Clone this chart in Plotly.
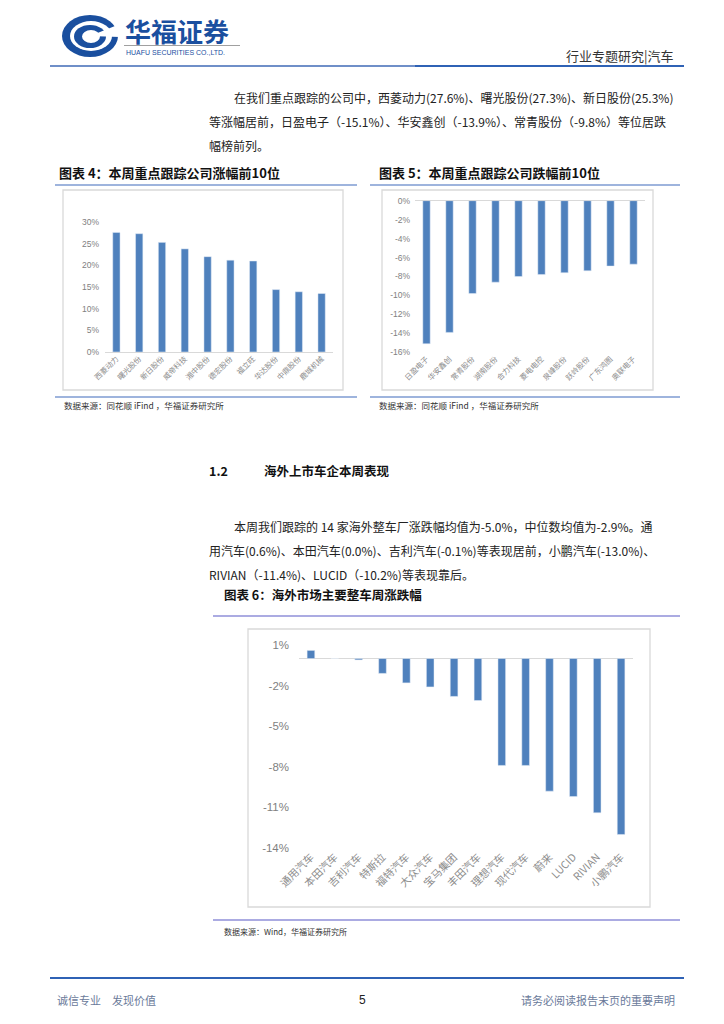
import plotly.graph_objects as go

W, H = 724, 1024
def X(px): return px / W
def Y(py): return 1 - py / H

# ---------------- data ----------------
c4_names = ["西菱动力", "曙光股份", "新日股份", "威帝科技", "湘中股份",
            "德宏股份", "福立旺", "华达股份", "中鼎股份", "鹿城机械"]
c4_vals = [27.6, 27.3, 25.3, 23.8, 22.0, 21.2, 21.0, 14.4, 13.9, 13.5]
c4_ticks = [0, 5, 10, 15, 20, 25, 30]

c5_names = ["日盈电子", "华安鑫创", "常青股份", "湖南股份", "合力科技",
            "菱电电控", "泉峰股份", "跃岭股份", "广东鸿图", "奥联电子"]
c5_vals = [-15.1, -13.9, -9.8, -8.6, -8.0, -7.8, -7.6, -7.4, -6.9, -6.7]
c5_ticks = [0, -2, -4, -6, -8, -10, -12, -14, -16]

c6_names = ["通用汽车", "本田汽车", "吉利汽车", "特斯拉", "福特汽车", "大众汽车", "宝马集团",
            "丰田汽车", "理想汽车", "现代汽车", "蔚来", "LUCID", "RIVIAN", "小鹏汽车"]
c6_vals = [0.6, 0.0, -0.1, -1.1, -1.8, -2.1, -2.8, -3.1, -7.9, -7.9, -9.8, -10.2, -11.4, -13.0]
c6_ticks = [1, -2, -5, -8, -11, -14]

BAR = "#4f81bd"
TICK = "#7f7f7f"
CJK = "Noto Sans CJK SC"

fig = go.Figure()
fig.add_trace(go.Bar(x=c4_names, y=c4_vals, marker_color=BAR, xaxis="x", yaxis="y", hoverinfo="skip"))
fig.add_trace(go.Bar(x=c5_names, y=c5_vals, marker_color=BAR, xaxis="x2", yaxis="y2", hoverinfo="skip"))
fig.add_trace(go.Bar(x=c6_names, y=c6_vals, marker_color=BAR, xaxis="x3", yaxis="y3", hoverinfo="skip"))

def yax(dom_top, dom_bot, rng, ticks, size, standoff, anchor):
    return dict(domain=[Y(dom_bot), Y(dom_top)], range=rng, tickvals=ticks, anchor=anchor,
                ticktext=[f"{t}%" for t in ticks], showgrid=False,
                zeroline=True, zerolinecolor="#d9d9d9", zerolinewidth=1.3,
                tickfont=dict(family="Liberation Sans, Arial", size=size, color=TICK),
                ticklabelstandoff=standoff, fixedrange=True, automargin=False)

def xax(left, right, anchor, size):
    return dict(domain=[X(left), X(right)], anchor=anchor, tickangle=-45,
                showgrid=False, showline=False, ticks="", automargin=False,
                tickfont=dict(family=CJK, size=size, color="#8c8c8c"), fixedrange=True)

fig.update_layout(
    width=W, height=H, autosize=False, margin=dict(l=0, r=0, t=0, b=0, pad=0),
    paper_bgcolor="white", plot_bgcolor="rgba(0,0,0,0)", showlegend=False,
    bargap=0.68,
    xaxis=xax(105, 333, "y", 7.5),
    yaxis=yax(222, 352, [0, 30], c4_ticks, 8.5, 5, "x"),
    xaxis2=xax(415, 645, "y2", 7.5),
    yaxis2=yax(200.7, 352.3, [-16, 0], c5_ticks, 8.5, 4, "x2"),
    xaxis3=xax(299, 633, "y3", 10.5),
    yaxis3=yax(645, 848, [-14, 1], c6_ticks, 11.5, 9, "x3"),
)

shapes = []
def line(x0, y0, x1, y1, color, w=1):
    shapes.append(dict(type="line", xref="paper", yref="paper", x0=X(x0), y0=Y(y0),
                       x1=X(x1), y1=Y(y1), line=dict(color=color, width=w)))
def rect(x0, y0, x1, y1, color, w=1, fill="rgba(0,0,0,0)"):
    shapes.append(dict(type="rect", xref="paper", yref="paper", x0=X(x0), y0=Y(y0),
                       x1=X(x1), y1=Y(y1), line=dict(color=color, width=w), fillcolor=fill, layer="below"))
def ell(x0, y0, x1, y1, fill):
    shapes.append(dict(type="circle", xref="paper", yref="paper", x0=X(x0), y0=Y(y0),
                       x1=X(x1), y1=Y(y1), line=dict(width=0), fillcolor=fill, layer="above"))

# logo
LOGO = "#1a4f9f"
ell(62, 15, 118, 57, LOGO)
ell(70, 21, 112, 51, "white")
ell(74, 25, 106, 48, LOGO)
ell(82, 30, 100, 43, "white")
shapes.append(dict(type="path", xref="paper", yref="paper",
                   path=f"M {X(90)} {Y(36)} L {X(120)} {Y(24)} L {X(120)} {Y(37)} Z",
                   fillcolor="white", line=dict(width=0), layer="above"))
line(124, 45.5, 240, 45.5, "#a0a0a0", 1)

# header / footer lines
line(50, 66, 415, 66, "#6f8fc8", 2)
line(415, 66, 684, 66, "#2f62b5", 2)
line(50, 978, 684, 978, "#2f62b5", 2)

# chart frames
TL = "#7e9bd2"
line(55, 185, 357, 185, TL, 1.5); line(55, 397, 357, 397, TL, 1.5)
line(370, 185, 680, 185, TL, 1.5); line(370, 397, 680, 397, TL, 1.5)
rect(63, 190, 343, 390, "#d9d9d9", 1.3)
rect(382, 190, 653, 390, "#d9d9d9", 1.3)
line(213, 616, 680, 616, "#8f8fd8", 1.5); line(213, 920, 680, 920, "#8f8fd8", 1.5)
rect(248, 629, 650, 907, "#d9d9d9", 1.3)
fig.update_layout(shapes=shapes)

ann = []
def txt(x, y, s, size=12, color="#222222", anchor="left", bold=False, family=CJK):
    if bold:
        s = f"<b>{s}</b>"
    ann.append(dict(x=X(x), y=Y(y), xref="paper", yref="paper", text=s, showarrow=False,
                    xanchor=anchor, yanchor="middle", font=dict(family=family, size=size, color=color)))

txt(123, 30, "华福证券", 26, LOGO, bold=True)
txt(124, 52, "HUAFU SECURITIES CO.,LTD.", 7, LOGO, family="Liberation Sans Narrow, Liberation Sans")
txt(676, 55, "行业专题研究|汽车", 13, "#333333", anchor="right")

BODY = 12
txt(232, 97, "在我们重点跟踪的公司中，西菱动力(27.6%)、曙光股份(27.3%)、新日股份(25.3%)", BODY)
txt(207, 121, "等涨幅居前，日盈电子（-15.1%）、华安鑫创（-13.9%）、常青股份（-9.8%）等位居跌", BODY)
txt(207, 145, "幅榜前列。", BODY)

txt(57, 172, "图表 4：本周重点跟踪公司涨幅前10位", 13, "#111111", bold=True)
txt(377, 172, "图表 5：本周重点跟踪公司跌幅前10位", 13, "#111111", bold=True)
txt(62, 405, "数据来源：同花顺 iFind ，华福证券研究所", 8.5, "#333333")
txt(377, 405, "数据来源：同花顺 iFind ，华福证券研究所", 8.5, "#333333")

txt(207, 470, "1.2", 12.5, "#111111", bold=True)
txt(262, 470, "海外上市车企本周表现", 12.5, "#111111", bold=True)
txt(232, 526, "本周我们跟踪的 14 家海外整车厂涨跌幅均值为-5.0%，中位数均值为-2.9%。通", BODY)
txt(207, 550, "用汽车(0.6%)、本田汽车(0.0%)、吉利汽车(-0.1%)等表现居前，小鹏汽车(-13.0%)、", BODY)
txt(207, 574, "RIVIAN（-11.4%)、LUCID（-10.2%)等表现靠后。", BODY)

txt(222, 594, "图表 6：海外市场主要整车周涨跌幅", 12.5, "#111111", bold=True)
txt(222, 931, "数据来源：Wind，华福证券研究所", 8, "#333333")

txt(55, 1000, "诚信专业　发现价值", 11, "#6a7a9a")
txt(362, 1000, "5", 12, "#222222", anchor="center", family="Liberation Sans")
txt(677, 1000, "请务必阅读报告末页的重要声明", 11, "#6a7a9a", anchor="right")
fig.update_layout(annotations=ann)

fig.write_html("out.html", config={"displayModeBar": False, "responsive": False},
               post_script="document.body.style.margin='0';")
